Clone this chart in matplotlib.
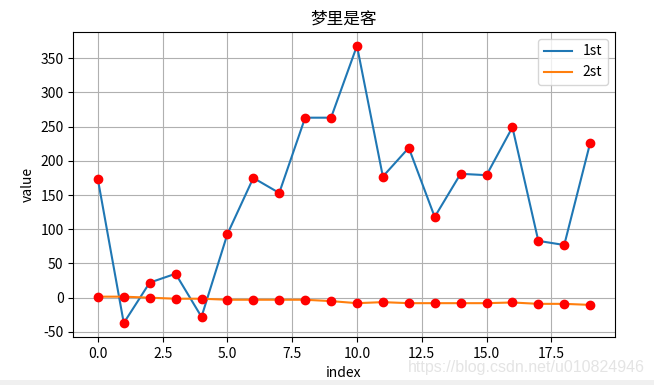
import matplotlib
matplotlib.use("Agg")
import matplotlib.pyplot as plt
from matplotlib.patches import Rectangle

plt.rcParams['font.family'] = ['Noto Sans CJK SC', 'DejaVu Sans']
plt.rcParams['axes.unicode_minus'] = False

# values
index = list(range(20))
first = [173, -37, 22, 35, -28, 93, 175, 153, 263, 263,
         368, 177, 219, 118, 181, 179, 249, 83, 77, 226]
second = [1.5, 1.5, 0, -1.5, -1.5, -3, -3, -3, -3, -5,
          -8, -6.5, -8, -8, -8, -8, -7, -9, -9, -10.5]

fig = plt.figure(figsize=(6.54, 3.85), dpi=100)
ax = fig.add_axes([0.112, 0.125, 0.828, 0.792])

ax.plot(index, first, label="1st")
ax.plot(index, second, label="2st")
ax.plot(index, first, "ro")
ax.plot(index, second, "ro")

ax.set_title("梦里是客")
ax.set_xlabel("index")
ax.set_ylabel("value")
ax.legend(loc="upper right")
ax.grid(True)

# watermark strip at the bottom
fig.patches.append(Rectangle((0, 0), 1, 5 / 385, transform=fig.transFigure,
                             facecolor="#f0f0f0", edgecolor="none"))
fig.text(0.986, 0.034, "https://blog.csdn.net/u010824946", ha="right",
         va="baseline", color="#e4e4e4", fontsize=11.5, family="Liberation Sans")

fig.savefig("out.png", dpi=100)
